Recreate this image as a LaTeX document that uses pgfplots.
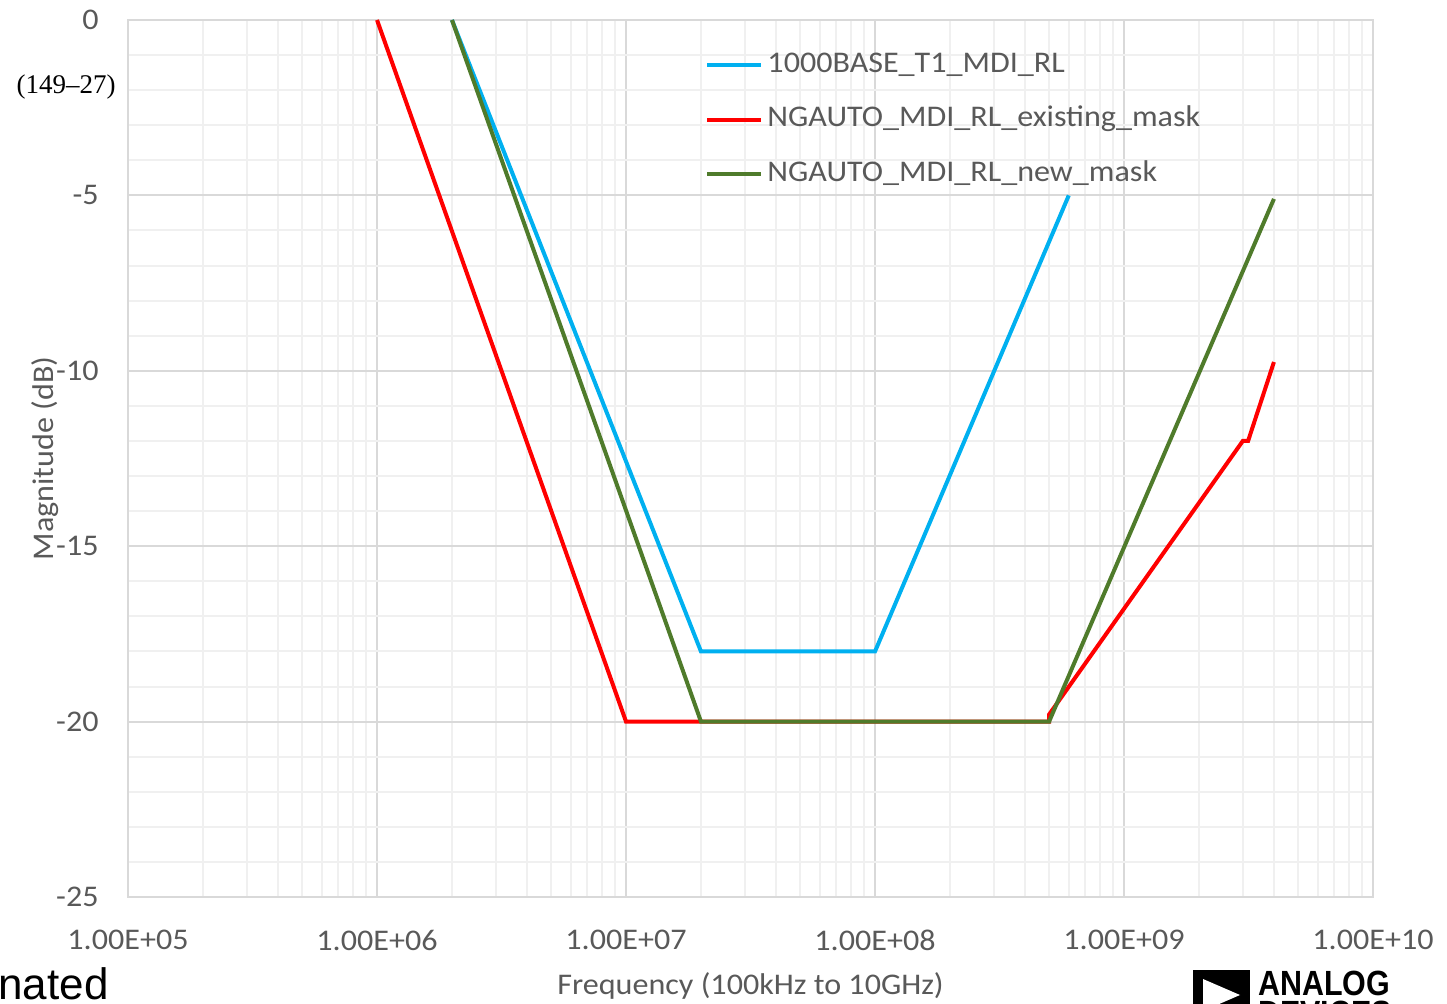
\documentclass[border=0pt]{standalone}
\usepackage{pgfplots}
\pgfplotsset{compat=1.18}
\usepackage{fontspec}
\setmainfont{Carlito}[FakeStretch=1.07]
\newfontfamily\serifont{Liberation Serif}
\newfontfamily\arialfont{Liberation Sans}
\definecolor{tgray}{HTML}{595959}
\definecolor{cblue}{HTML}{00B0F0}
\definecolor{cred}{HTML}{FF0000}
\definecolor{cgreen}{HTML}{4F7B2B}
\definecolor{majgrid}{HTML}{D9D9D9}
\definecolor{mingrid}{HTML}{F0F0F0}
\begin{document}
\begin{tikzpicture}
\useasboundingbox (0,0) rectangle (723.5pt,501.5pt);
\begin{axis}[
  at={(64pt,53pt)}, anchor=south west,
  scale only axis, width=622.5pt, height=438.5pt,
  xmode=log, xmin=1e5, xmax=1e10, ymin=-25, ymax=0,
  xtick={1e5,1e6,1e7,1e8,1e9,1e10},
  xticklabels={1.00E+05,1.00E+06,1.00E+07,1.00E+08,1.00E+09,1.00E+10},
  ytick={-25,-20,-15,-10,-5,0},
  yticklabels={-25,-20,-15,-10,-5,0},
  minor ytick={-24,-23,...,-1},
  xmajorgrids, ymajorgrids, xminorgrids, yminorgrids,
  major grid style={draw=majgrid, line width=1pt},
  minor grid style={draw=mingrid, line width=1pt},
  major tick length=0pt, minor tick length=0pt,
  axis line style={draw=majgrid, line width=1pt},
  ticklabel style={font=\fontsize{15}{18}\selectfont, text=tgray},
  xticklabel style={anchor=center, yshift=-21.5pt},
  yticklabel style={anchor=east, inner sep=0pt, xshift=-14.5pt},
  xlabel={Frequency (100kHz to 10GHz)},
  ylabel={Magnitude (dB)},
  label style={font=\fontsize{15}{18}\selectfont, text=tgray},
  xlabel style={at={(axis description cs:0.5,-0.1015)}, anchor=center},
  ylabel style={at={(axis description cs:-0.0667,0.5)}, anchor=center, rotate=0},
  legend style={at={(axis description cs:0.4635,0.9695)}, anchor=north west,
    draw=none, fill=none, inner sep=0pt, row sep=9.25pt, column sep=0pt,
    font=\fontsize{15}{18}\selectfont, text=tgray,
    nodes={inner sep=2pt, text height=10.5pt, text depth=3.5pt}},
  legend cell align=left,
  legend image code/.code={\draw[#1, line width=2pt] (0pt,0pt) -- (27pt,0pt);},
  every axis plot/.append style={line width=2pt},
]
\addplot[cblue, mark=none] coordinates {(2e6,0) (2e7,-18) (1e8,-18) (6e8,-5)};
\addlegendentry{1000BASE\_T1\_MDI\_RL}
\addplot[cred, mark=none] coordinates {(1e6,0) (1e7,-20) (5e8,-20) (5e8,-19.8) (3e9,-12) (3.15e9,-12) (4e9,-9.75)};
\addlegendentry{NGAUTO\_MDI\_RL\_existing\_mask}
\addplot[cgreen, mark=none] coordinates {(2e6,0) (2e7,-20) (5e8,-20) (4e9,-5.1)};
\addlegendentry{NGAUTO\_MDI\_RL\_new\_mask}
\end{axis}
\node[anchor=center, inner sep=0pt, font=\serifont\fontsize{13.5}{15}\selectfont] at (33pt,458pt) {(149–27)};
\node[anchor=base west, inner sep=0pt, font=\arialfont\fontsize{22}{24}\selectfont] at (-1pt,2pt) {nated};
\fill[black] (596.5pt,-14pt) rectangle (625pt,16.5pt);
\fill[white] (601.5pt,12pt) -- (620pt,4pt) -- (601.5pt,-4pt) -- cycle;
\node[anchor=base west, inner sep=0pt, xscale=0.87, transform shape, font=\arialfont\bfseries\fontsize{17.5}{20}\selectfont] at (629pt,4pt) {ANALOG};
\node[anchor=base west, inner sep=0pt, xscale=0.87, transform shape, font=\arialfont\bfseries\fontsize{17.5}{20}\selectfont] at (629pt,-11pt) {DEVICES};
\end{tikzpicture}
\end{document}
